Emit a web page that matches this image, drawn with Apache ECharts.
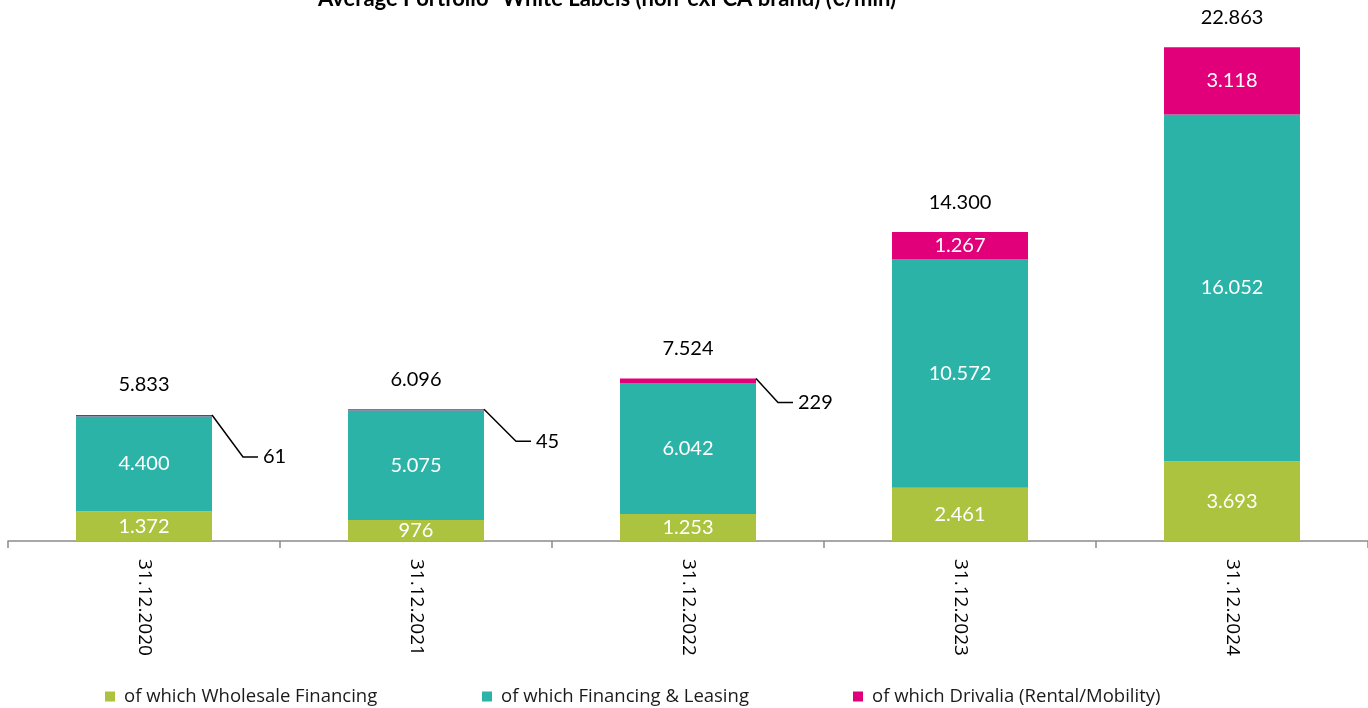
<!DOCTYPE html>
<html>
<head>
<meta charset="utf-8">
<script src="https://cdn.jsdelivr.net/npm/echarts@6/dist/echarts.min.js"></script>
<style>
  html, body { margin: 0; padding: 0; background: #ffffff; }
  #chart { width: 1368px; height: 708px; }
</style>
</head>
<body>
<div id="chart"></div>
<script>
// Average portfolio of white-label brands, year-end figures (€/mln)
const categories = ['31.12.2020', '31.12.2021', '31.12.2022', '31.12.2023', '31.12.2024'];
const wholesale = [1372, 976, 1253, 2461, 3693];
const financingLeasing = [4400, 5075, 6042, 10572, 16052];
const drivalia = [61, 45, 229, 1267, 3118];
const seriesNames = ['of which Wholesale Financing', 'of which Financing & Leasing', 'of which Drivalia (Rental/Mobility)'];

// Leader-line offsets (px) for segments too thin to hold their own label
const leaderNudge = [[31, 42], [32, 32], [22, 24], null, null];
const SMALL_SEGMENT = 500;

const colors = ['#abc33f', '#2cb3a8', '#e2007a'];
const totals = categories.map((_, i) => wholesale[i] + financingLeasing[i] + drivalia[i]);

const fmt = v => String(v).replace(/\B(?=(\d{3})+(?!\d))/g, '.');
const LABEL_FONT = 'Lato';
const AXIS_FONT = 'Open Sans';
const LABEL_SIZE = 20;

const chart = echarts.init(document.getElementById('chart'));

const insideLabel = {
  show: true,
  position: 'inside',
  color: '#ffffff',
  fontFamily: LABEL_FONT,
  fontSize: LABEL_SIZE,
  formatter: p => fmt(p.value)
};

function renderTotals(params, api) {
  const i = api.value(0);
  const total = api.value(1);
  const drv = api.value(2);
  const top = api.coord([i, total]);
  const band = api.size([1, 0])[0];
  const children = [{
    type: 'text',
    style: {
      x: top[0], y: top[1] - 30,
      text: fmt(total),
      fill: '#000000',
      font: LABEL_SIZE + 'px ' + LABEL_FONT,
      align: 'center', verticalAlign: 'middle'
    }
  }];
  const nudge = leaderNudge[i];
  if (drv < SMALL_SEGMENT && nudge) {
    const x0 = top[0] + band / 4;
    const y0 = top[1];
    const x1 = x0 + nudge[0];
    const y1 = y0 + nudge[1];
    children.push({
      type: 'polyline',
      shape: { points: [[x0, y0], [x1, y1], [x1 + 15, y1]] },
      style: { stroke: '#000000', lineWidth: 1.5, fill: null }
    });
    children.push({
      type: 'text',
      style: {
        x: x1 + 20, y: y1,
        text: fmt(drv),
        fill: '#000000',
        font: LABEL_SIZE + 'px ' + LABEL_FONT,
        align: 'left', verticalAlign: 'middle'
      }
    });
  }
  return { type: 'group', children };
}

const legendBase = {
  bottom: -3,
  icon: 'rect',
  itemWidth: 10,
  itemHeight: 10,
  itemGap: 0,
  textStyle: { fontFamily: AXIS_FONT, fontSize: 18.5, color: '#1a1a1a', padding: [0, 0, 0, 4] },
  selectedMode: false
};

chart.setOption({
  animation: false,
  color: colors,
  title: {
    text: 'Average Portfolio- White Labels (non-exFCA brand) (€/mln)',
    left: 318,
    top: -12,
    padding: 0,
    textStyle: { fontFamily: LABEL_FONT, fontWeight: 'bold', fontSize: 22, color: '#000000' }
  },
  legend: [
    Object.assign({}, legendBase, { left: 100, data: [seriesNames[0]] }),
    Object.assign({}, legendBase, { left: 477, data: [seriesNames[1]] }),
    Object.assign({}, legendBase, { left: 848, data: [seriesNames[2]] })
  ],
  grid: { left: 8, right: 0, top: 1, bottom: 167, containLabel: false },
  xAxis: {
    type: 'category',
    data: categories,
    boundaryGap: true,
    axisLine: { lineStyle: { color: '#8c8c8c', width: 1.5 } },
    axisTick: { show: true, length: 7, lineStyle: { color: '#8c8c8c', width: 1.5 } },
    axisLabel: {
      rotate: -90,
      margin: 18,
      color: '#000000',
      fontFamily: AXIS_FONT,
      fontSize: 19
    }
  },
  yAxis: {
    type: 'value',
    min: 0,
    max: 25000,
    show: false,
    splitLine: { show: false }
  },
  series: [
    {
      name: seriesNames[0], type: 'bar', stack: 'total', barWidth: '50%',
      data: wholesale, label: insideLabel
    },
    {
      name: seriesNames[1], type: 'bar', stack: 'total', barWidth: '50%',
      data: financingLeasing, label: insideLabel
    },
    {
      name: seriesNames[2], type: 'bar', stack: 'total', barWidth: '50%',
      data: drivalia,
      label: Object.assign({}, insideLabel, {
        formatter: p => (p.value < SMALL_SEGMENT ? '' : fmt(p.value))
      })
    },
    {
      type: 'custom',
      silent: true,
      data: categories.map((_, i) => [i, totals[i], drivalia[i]]),
      encode: { x: 0, y: 1 },
      renderItem: renderTotals,
      z: 5
    }
  ]
});
</script>
</body>
</html>
